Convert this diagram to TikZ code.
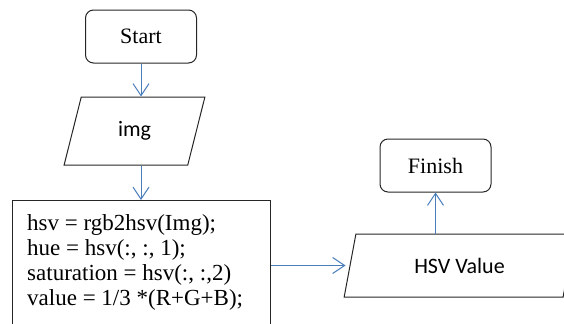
\documentclass[tikz,border=0pt]{standalone}
\usepackage{fontspec}
\setmainfont{Liberation Serif}
\newfontfamily\labelfont{Carlito}
\usetikzlibrary{arrows.meta, calc, shapes.geometric}

\begin{document}
\begin{tikzpicture}[
        x=1bp, y=-1bp,
        terminal/.style={
            draw=black!85,
            line width=1bp,
            rectangle,
            rounded corners=8bp,
            minimum width=111bp,
            minimum height=53bp,
            font=\fontsize{22bp}{25bp}\selectfont,
        },
        io/.style={
            draw=black!85,
            line width=1bp,
            trapezium,
            trapezium left angle=76,
            trapezium right angle=104,
            trapezium stretches=true,
            font=\labelfont\fontsize{22bp}{25bp}\selectfont,
        },
        procbox/.style={
            draw=black!85,
            line width=1bp,
            rectangle,
            minimum width=258bp,
            minimum height=150bp,
            anchor=north west,
        },
        code/.style={
            align=left,
            inner sep=0pt,
            anchor=north west,
            font=\fontsize{23bp}{25bp}\selectfont,
        },
        flow/.style={
            draw={rgb,255:red,74;green,126;blue,187},
            line width=1bp,
            -{Straight Barb[length=12bp, width=16bp]},
        },
    ]
    \useasboundingbox (0, 0) rectangle (564, 323);
    \clip (0, 0) rectangle (564, 323);

    \node[terminal] (start) at (141, 36.5) {Start};
    \node[io, minimum width=141bp, minimum height=68bp] (img) at (134.5, 131) {img};
    \node[procbox] (calc) at (12, 200) {};
    \node[code] (calc-text) at ($(calc.north west)+(15, 14)$)
        {hsv = rgb2hsv(Img);\\
         hue = hsv(:, :, 1);\\
         saturation = hsv(:, :,2)\\
         value = 1/3 *(R+G+B);};
    \node[io, minimum width=231bp, minimum height=63bp] (hsv) at (459.5, 265.5) {HSV Value};
    \node[terminal] (finish) at (435.5, 165.5) {Finish};

    \draw[flow] (start.south) -- (start.south |- img.north);
    \draw[flow] (start.south |- img.south) -- (start.south |- calc.north);
    \draw[flow] (calc.east |- hsv.west) -- ($(hsv.west)+(-4, 0)$);
    \draw[flow] (hsv.north -| finish.south) -- (finish.south);
\end{tikzpicture}
\end{document}
